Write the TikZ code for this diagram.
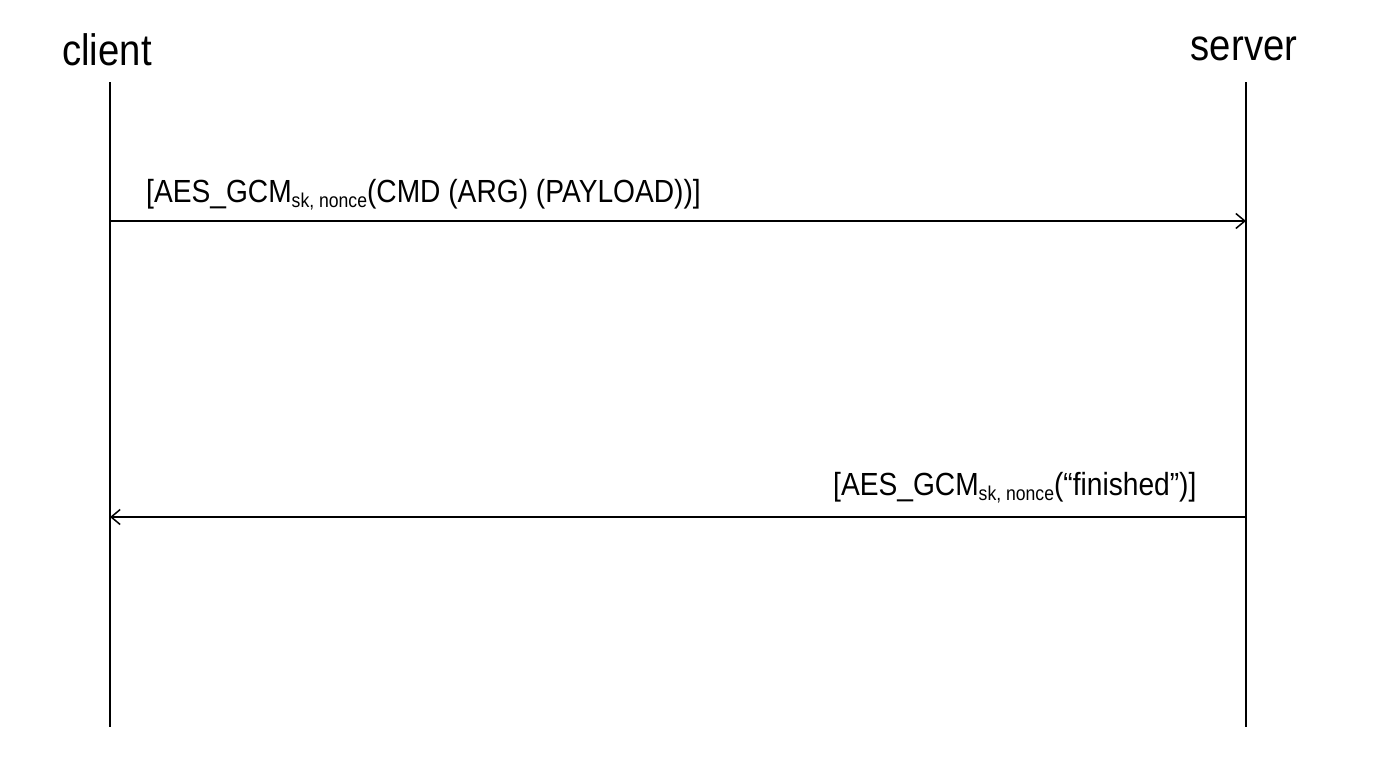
\documentclass[tikz,border=0pt]{standalone}
\usepackage{fontspec}
\setmainfont{Liberation Sans}
\newfontfamily\narrow[FakeStretch=0.88]{Liberation Sans}
\newfontfamily\actorfont[FakeStretch=0.87]{Liberation Sans}
\usetikzlibrary{arrows.meta}
\tikzset{
  actor/.style={inner sep=0pt, font=\fontsize{44}{50}\selectfont\actorfont},
  lifeline/.style={line width=1.5pt},
  msg/.style={line width=1.5pt, -{Straight Barb[length=9pt,width=15pt,line width=1.5pt]}},
  msglabel/.style={inner sep=0pt, anchor=base west, font=\fontsize{32}{38}\selectfont\narrow}
}
\newcommand{\subsk}{\raisebox{-5pt}{\fontsize{20}{24}\selectfont\narrow sk, nonce}}
\begin{document}
\begin{tikzpicture}[x=1pt,y=-1pt]
\useasboundingbox (0,0) rectangle (1388,776);
\node[actor, anchor=base] (client) at (107,65) {client};
\node[actor, anchor=base] (server) at (1244,60) {server};
\coordinate (ctop) at (110,82);
\coordinate (cbot) at (110,727);
\coordinate (stop) at (1246,82);
\coordinate (sbot) at (1246,727);
\draw[lifeline] (ctop) -- (cbot);
\draw[lifeline] (stop) -- (sbot);
\coordinate (c1) at (110,221);
\coordinate (s1) at (1246,221);
\coordinate (c2) at (110,517);
\coordinate (s2) at (1246,517);
\draw[msg] (c1) -- (s1);
\draw[msg] (s2) -- (c2);
\node[msglabel] (m1) at (146,202) {[AES\_GCM\subsk(CMD (ARG) (PAYLOAD))]};
\node[msglabel] (m2) at (833,495) {[AES\_GCM\subsk(“finished”)]};
\end{tikzpicture}
\end{document}
